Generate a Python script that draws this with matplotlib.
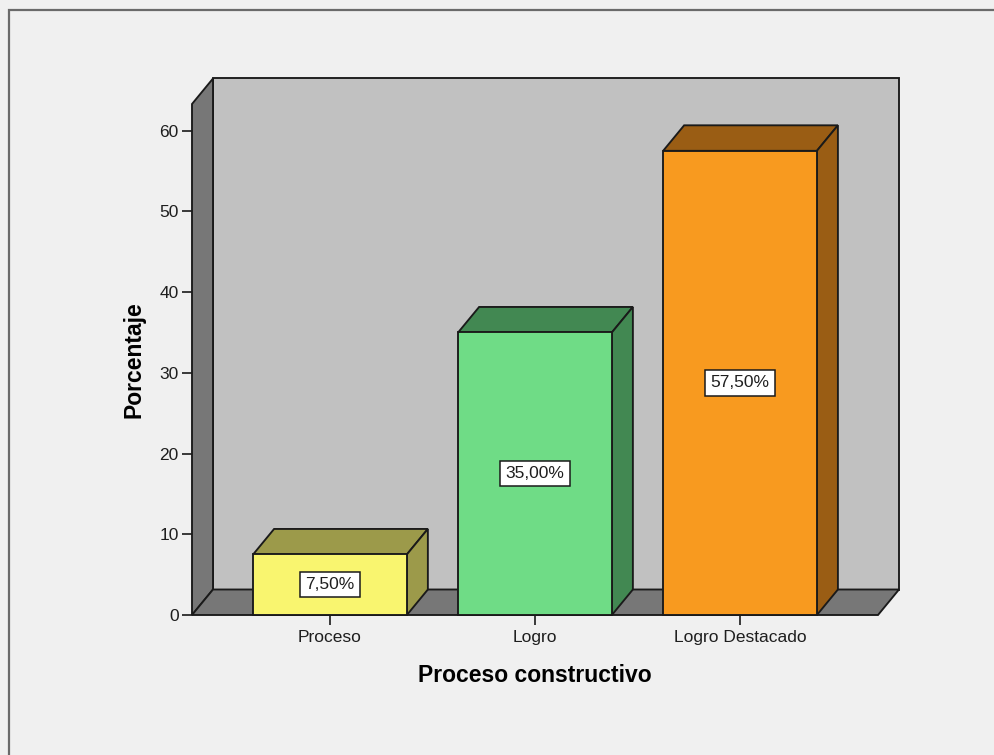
import matplotlib
matplotlib.use("Agg")
import matplotlib.pyplot as plt
from matplotlib.patches import Polygon, Rectangle

# Data
categories = ["Proceso", "Logro", "Logro Destacado"]
percentages = [7.50, 35.00, 57.50]
value_labels = ["7,50%", "35,00%", "57,50%"]
y_ticks = [0, 10, 20, 30, 40, 50, 60]

# Styling
front_colors = ["#f9f56f", "#6fdc86", "#f89a1f"]
shade_colors = ["#9c9a4a", "#428852", "#9a5d14"]
back_wall_color = "#c1c1c1"
side_wall_color = "#777777"
edge = "#1a1a1a"
text_color = "#1e1e1e"

plt.rcParams["font.family"] = ["Liberation Sans", "DejaVu Sans"]

W, H, DPI = 995, 755, 100
fig = plt.figure(figsize=(W / DPI, H / DPI), dpi=DPI, facecolor="#f0f0f0")

# Outer chart frame
fig.patches.append(Rectangle((9 / W, -0.1), 1.2, (H - 10) / H + 0.1,
                             transform=fig.transFigure, fill=False,
                             edgecolor="#6a6a6a", linewidth=1.6))

# Axes = the front plane of the 3D box
ax = fig.add_axes([192 / W, (H - 615) / H, 686 / W, 511 / H])
ax.set_facecolor("none")
xmin, xmax = -0.673, 2.673
ymax = 63.3
ax.set_xlim(xmin, xmax)
ax.set_ylim(0, ymax)

# Depth offset of the 3D effect, expressed in data units
depth_px = (21, 25.5)
bbox = ax.get_position()
px_per_x = bbox.width * W / (xmax - xmin)
px_per_y = bbox.height * H / ymax
ddx = depth_px[0] / px_per_x
ddy = depth_px[1] / px_per_y

lw = 1.35
common = dict(edgecolor=edge, linewidth=lw, clip_on=False, joinstyle="miter")

# Back wall
ax.add_patch(Polygon([(xmin + ddx, ddy), (xmax + ddx, ddy),
                      (xmax + ddx, ymax + ddy), (xmin + ddx, ymax + ddy)],
                     facecolor=back_wall_color, zorder=1, **common))
# Left wall
ax.add_patch(Polygon([(xmin, 0), (xmin, ymax), (xmin + ddx, ymax + ddy),
                      (xmin + ddx, ddy)],
                     facecolor=side_wall_color, zorder=2, **common))
# Floor
ax.add_patch(Polygon([(xmin, 0), (xmax, 0), (xmax + ddx, ddy),
                      (xmin + ddx, ddy)],
                     facecolor=side_wall_color, zorder=2, **common))

# Bars
width = 0.75
xs = list(range(len(categories)))
for i, (x, h) in enumerate(zip(xs, percentages)):
    x0, x1 = x - width / 2, x + width / 2
    # top face
    ax.add_patch(Polygon([(x0, h), (x1, h), (x1 + ddx, h + ddy), (x0 + ddx, h + ddy)],
                         facecolor=shade_colors[i], zorder=3 + i, **common))
    # right side face
    ax.add_patch(Polygon([(x1, 0), (x1, h), (x1 + ddx, h + ddy), (x1 + ddx, ddy)],
                         facecolor=shade_colors[i], zorder=3 + i, **common))
    ax.bar(x, h, width=width, color=front_colors[i], edgecolor=edge,
           linewidth=lw, zorder=3.5 + i, clip_on=False)
    ax.text(x, h / 2, value_labels[i], ha="center", va="center",
            fontsize=12.5, color=text_color, zorder=10,
            bbox=dict(boxstyle="square,pad=0.3", facecolor="white",
                      edgecolor=edge, linewidth=1.1))

for s in ax.spines.values():
    s.set_visible(False)

ax.set_yticks(y_ticks)
ax.set_yticklabels([str(t) for t in y_ticks])
ax.set_xticks(xs)
ax.set_xticklabels(categories)
ax.tick_params(axis="both", length=7.5, width=1.2, color=edge,
               labelsize=12.5, labelcolor=text_color, pad=2)
ax.tick_params(axis="x", pad=3)

ax.set_ylabel("Porcentaje", fontsize=16.5, fontweight="bold", color="black")
ax.yaxis.set_label_coords(-0.084, 0.5)
ax.yaxis.label.set_verticalalignment("center")
ax.set_xlabel("Proceso constructivo", fontsize=16.5, fontweight="bold", color="black")
ax.xaxis.set_label_coords(0.5, -0.119)
ax.xaxis.label.set_verticalalignment("center")

fig.savefig("out.png", dpi=DPI, facecolor=fig.get_facecolor())
